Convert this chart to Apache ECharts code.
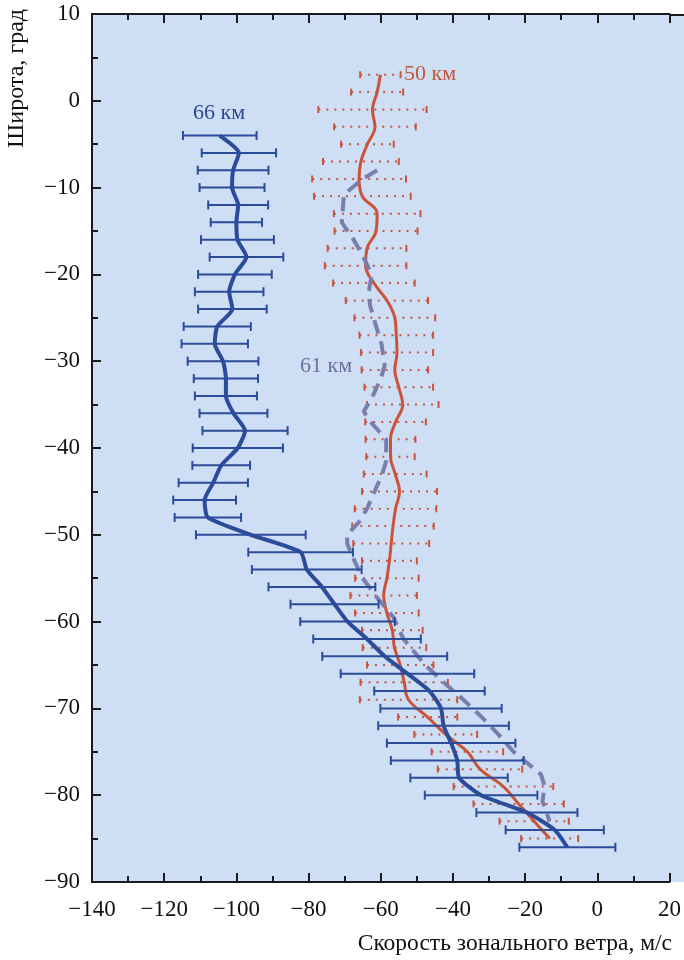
<!DOCTYPE html>
<html><head><meta charset="utf-8">
<script src="https://cdn.jsdelivr.net/npm/echarts@6/dist/echarts.min.js"></script>
<style>html,body{margin:0;padding:0;background:#fff}#c{width:684px;height:960px}</style>
</head><body><div id="c"></div>
<script>
// ---- data ----
const xTicks = [-140, -120, -100, -80, -60, -40, -20, 0, 20];
const yTicks = [-90, -80, -70, -60, -50, -40, -30, -20, -10, 0, 10];

// 66 km (blue, solid, error bars)
const lat66 = [-4,-6,-8,-10,-12,-14,-16,-18,-20,-22,-24,-26,-28,-30,-32,-34,-36,-38,-40,-42,-44,-46,-48,-50,-52,-54,-56,-58,-60,-62,-64,-66,-68,-70,-72,-74,-76,-78,-80,-82,-84,-86];
const mean66 = [-104.6,-99.3,-100.9,-101.2,-99.5,-100.0,-99.7,-97.2,-100.4,-102.0,-101.1,-105.3,-106.0,-103.7,-102.9,-102.9,-100.8,-97.6,-99.6,-104.2,-106.4,-108.8,-107.9,-96.0,-82.2,-80.5,-76.3,-72.8,-69.2,-63.8,-58.9,-52.6,-46.5,-43.3,-42.6,-40.5,-38.8,-38.3,-32.2,-19.5,-11.8,-8.3];
const err66 = [10.2,10.3,9.8,9.0,8.3,7.1,10.1,10.2,10.2,9.5,9.5,9.3,9.2,9.8,8.9,8.6,9.4,11.8,12.5,8.0,9.6,8.7,9.2,15.2,14.5,15.2,14.8,12.2,13.1,14.9,17.3,18.5,15.3,16.8,18.1,17.8,18.4,13.5,15.6,14.0,13.6,13.3];

// 50 km (red, solid, dotted error bars)
const lat50 = [3,1,-1,-3,-5,-7,-9,-11,-13,-15,-17,-19,-21,-23,-25,-27,-29,-31,-33,-35,-37,-39,-41,-43,-45,-47,-49,-51,-53,-55,-57,-59,-61,-63,-65,-67,-69,-71,-73,-75,-77,-79,-81,-83,-85];
const mean50 = [-60.1,-61.0,-62.3,-61.6,-63.7,-65.5,-66.0,-65.1,-61.0,-61.3,-63.8,-64.2,-61.9,-58.3,-56.1,-55.7,-55.5,-56.1,-55.0,-53.9,-55.9,-57.3,-57.3,-56.0,-54.8,-55.9,-56.6,-57.1,-57.6,-58.3,-59.2,-58.3,-56.8,-56.2,-54.6,-53.5,-52.3,-47.0,-42.0,-36.0,-32.5,-26.0,-21.8,-17.5,-13.2];
const err50 = [5.6,7.2,15.0,11.3,7.3,10.5,13.0,13.4,12.0,11.5,10.9,11.3,11.3,11.4,11.2,10.2,10.0,9.2,9.5,9.9,8.4,6.9,6.7,8.7,10.4,11.3,11.3,10.5,7.6,8.8,9.2,8.8,8.4,8.8,9.2,12.1,13.5,8.2,8.7,9.9,11.7,13.8,12.5,9.6,7.9];

// 61 km (grey-violet, dashed, no error bars)
const lat61 = [-8,-9,-10.8,-14,-16,-18,-20,-22,-23.5,-25,-28,-30.5,-32,-34,-35.8,-37,-39,-41.5,-43,-47,-48.5,-50,-51,-53,-55,-57,-59.5,-62,-65,-67,-69,-71,-73,-75,-77.6,-79,-80.7,-83];
const mean61 = [-61,-65,-70.2,-70.8,-67.5,-64.8,-62.5,-63.3,-63.0,-62.0,-59.8,-58.9,-60,-62.2,-64.7,-62.8,-58.5,-58.5,-59.6,-63.8,-66,-69.3,-69.3,-67.3,-65,-61.5,-56.5,-53.7,-47.7,-42.6,-37.1,-32,-27.4,-23.2,-15.6,-14.6,-15.2,-13.2];

// ---- styles ----
const C_BLUE = '#2b4b9b', C_RED = '#c9543a', C_GREY = '#7b7dac', C_BG = '#cedef4', C_AX = '#1a1a1a';
const SERIF = '"Liberation Serif", "DejaVu Serif", serif';
const minus = v => String(v).replace('-', '\u2212');

function errBars(color, dotted, capH, lw) {
  return function (params, api) {
    const lo = api.coord([api.value(0), api.value(2)]);
    const hi = api.coord([api.value(1), api.value(2)]);
    const h = capH / 2;
    const st = {stroke: color, lineWidth: lw};
    return {type: 'group', children: [
      {type: 'line', shape: {x1: lo[0], y1: lo[1], x2: hi[0], y2: hi[1]}, style: Object.assign({}, st, dotted ? {lineDash: [2, 6]} : {})},
      {type: 'line', shape: {x1: lo[0], y1: lo[1] - h, x2: lo[0], y2: lo[1] + h}, style: st},
      {type: 'line', shape: {x1: hi[0], y1: hi[1] - h, x2: hi[0], y2: hi[1] + h}, style: st}
    ]};
  };
}

const tickStyle = {color: C_AX, width: 2};
const xBase = {
  type: 'value', min: xTicks[0], max: xTicks[xTicks.length - 1], interval: 20,
  splitLine: {show: false},
  axisLine: {show: true, onZero: false, lineStyle: {color: C_AX, width: 2}},
  axisTick: {show: true, inside: true, length: 9, lineStyle: tickStyle},
  minorTick: {show: true, splitNumber: 2, length: 6, lineStyle: tickStyle}
};

const chart = echarts.init(document.getElementById('c'), null, {renderer: 'canvas'});
chart.setOption({
  animation: false,
  backgroundColor: '#ffffff',
  grid: {left: 92, right: 11, top: 14, bottom: 78, show: true, backgroundColor: C_BG, borderWidth: 0},
  graphic: [
    {type: 'rect', z: -1, silent: true, shape: {x: 660, y: 14, width: 30, height: 868}, style: {fill: C_BG}},
    {type: 'line', silent: true, shape: {x1: 670, y1: 15, x2: 684, y2: 15}, style: {stroke: C_AX, lineWidth: 2}},
    {type: 'text', silent: true, x: 17, y: 9, rotation: Math.PI / 2,
      style: {text: 'Широта, град', font: '24px ' + SERIF, fill: '#111', align: 'right', verticalAlign: 'middle'}},
    {type: 'text', silent: true, x: 672, y: 944,
      style: {text: 'Скорость зонального ветра, м/с', font: '23.5px ' + SERIF, fill: '#111', align: 'right', verticalAlign: 'middle'}},
    {type: 'text', silent: true, x: 219, y: 113,
      style: {text: '66 км', font: '22px ' + SERIF, fill: '#2d4a91', align: 'center', verticalAlign: 'middle'}},
    {type: 'text', silent: true, x: 404, y: 74,
      style: {text: '50 км', font: '22px ' + SERIF, fill: '#c25638', align: 'left', verticalAlign: 'middle'}},
    {type: 'text', silent: true, x: 300, y: 366,
      style: {text: '61 км', font: '22px ' + SERIF, fill: '#6f6f9e', align: 'left', verticalAlign: 'middle'}}
  ],
  xAxis: [
    Object.assign({}, xBase, {position: 'bottom',
      axisLabel: {show: true, margin: 16, fontFamily: SERIF, fontSize: 23, color: '#111', formatter: minus}}),
    Object.assign({}, xBase, {position: 'top', axisLabel: {show: false}})
  ],
  yAxis: [{
    type: 'value', min: yTicks[0], max: yTicks[yTicks.length - 1], interval: 10,
    splitLine: {show: false},
    axisLine: {show: true, onZero: false, lineStyle: {color: C_AX, width: 2}},
    axisTick: {show: true, inside: true, length: 9, lineStyle: tickStyle},
    minorTick: {show: true, splitNumber: 2, length: 6, lineStyle: tickStyle},
    axisLabel: {margin: 12, fontFamily: SERIF, fontSize: 23, color: '#111', formatter: minus}
  }],
  series: [
    {type: 'custom', name: 'err50', z: 3, renderItem: errBars(C_RED, true, 7, 2),
      encode: {x: [0, 1], y: 2}, data: lat50.map((l, i) => [mean50[i] - err50[i], mean50[i] + err50[i], l])},
    {type: 'line', name: '50 км', z: 4, data: lat50.map((l, i) => [mean50[i], l]), showSymbol: false, smooth: 0.4,
      lineStyle: {color: C_RED, width: 3}},
    {type: 'line', name: '61 км', z: 5, data: lat61.map((l, i) => [mean61[i], l]), showSymbol: false,
      lineStyle: {color: C_GREY, width: 4, type: [14, 8]}},
    {type: 'custom', name: 'err66', z: 6, renderItem: errBars(C_BLUE, false, 9, 2),
      encode: {x: [0, 1], y: 2}, data: lat66.map((l, i) => [mean66[i] - err66[i], mean66[i] + err66[i], l])},
    {type: 'line', name: '66 км', z: 7, data: lat66.map((l, i) => [mean66[i], l]), showSymbol: false, smooth: 0.2,
      lineStyle: {color: C_BLUE, width: 4}}
  ]
});
</script>
</body></html>
